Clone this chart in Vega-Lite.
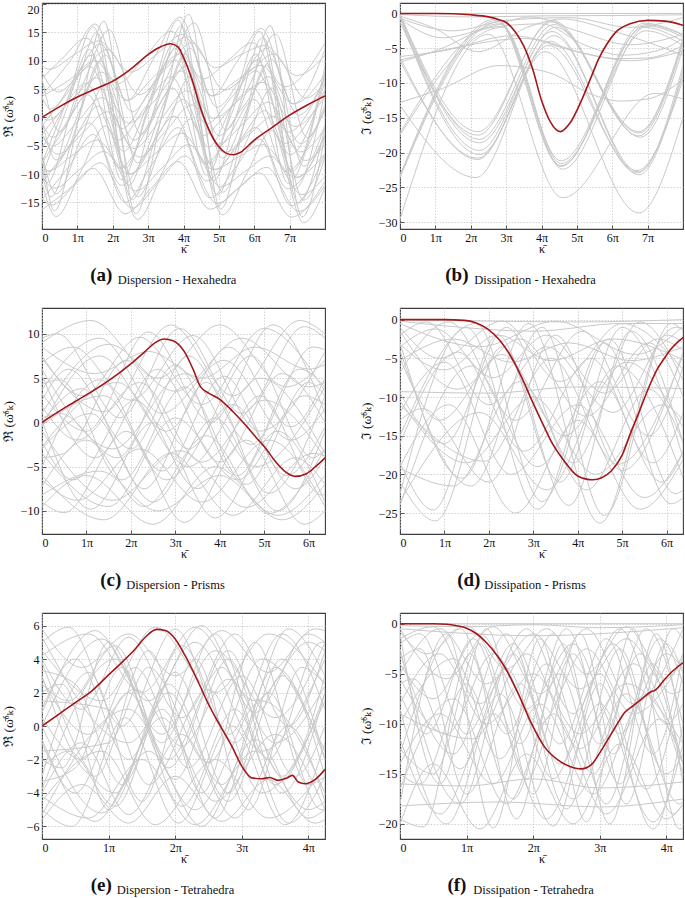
{
"$schema":"https://vega.github.io/schema/vega-lite/v6.json",
"padding":{"left":0,"top":2,"right":0,"bottom":0},
"config":{
"font":"Liberation Serif, DejaVu Serif, serif",
"view":{"stroke":"#3c3c3c","strokeWidth":1.1},
"axis":{"grid":true,"gridColor":"#c0c0c0","gridDash":[1.5,1.5],"gridWidth":0.7,"domain":false,"tickSize":-4,"tickColor":"#333","tickWidth":0.8,"labelPadding":7,"labelFont":"Liberation Serif, DejaVu Serif, serif","labelFontSize":12,"labelColor":"#111","titleFont":"Liberation Serif, DejaVu Serif, serif","titleFontWeight":"normal","titleColor":"#111"},
"axisX":{"titleFontSize":12,"titlePadding":0},
"axisY":{"titleFontSize":13.5,"titlePadding":3,"minExtent":24,"maxExtent":24},
"title":{"orient":"bottom","anchor":"middle","frame":"bounds","offset":12,"font":"Liberation Serif, DejaVu Serif, serif","fontSize":19,"fontWeight":"bold","color":"#111","subtitleFont":"Liberation Serif, DejaVu Serif, serif","subtitleFontSize":12.5,"subtitleColor":"#111","subtitlePadding":-11}
},
"datasets":{
"aG":[
{"c":1,"x":0,"y":-9.3},{"c":1,"x":0.15,"y":-11.5},{"c":1,"x":0.85,"y":1.75},{"c":1,"x":1.55,"y":15},{"c":1,"x":2.45,"y":-12},{"c":1,"x":3.2,"y":2.1},{"c":1,"x":3.95,"y":16.2},{"c":1,"x":4.85,"y":-11.2},{"c":1,"x":5.55,"y":1.5},{"c":1,"x":6.25,"y":14.2},{"c":1,"x":7.15,"y":-12.6},{"c":1,"x":8,"y":4.8},
{"c":2,"x":0,"y":-6.3},{"c":2,"x":0.35,"y":-16.5},{"c":2,"x":1.05,"y":0.25},{"c":2,"x":1.75,"y":17},{"c":2,"x":2.65,"y":-17},{"c":2,"x":3.4,"y":0.6},{"c":2,"x":4.15,"y":18.2},{"c":2,"x":5.05,"y":-16.2},{"c":2,"x":5.75,"y":0},{"c":2,"x":6.45,"y":16.2},{"c":2,"x":7.35,"y":-17.6},{"c":2,"x":8,"y":-3.1},
{"c":3,"x":0,"y":-5.5},{"c":3,"x":0.7,"y":2.75},{"c":3,"x":1.4,"y":11},{"c":3,"x":2.3,"y":-6},{"c":3,"x":3.05,"y":3.1},{"c":3,"x":3.8,"y":12.2},{"c":3,"x":4.7,"y":-5.2},{"c":3,"x":5.4,"y":2.5},{"c":3,"x":6.1,"y":10.2},{"c":3,"x":7.0,"y":-6.6},{"c":3,"x":8,"y":6.2},
{"c":4,"x":0,"y":3.5},{"c":4,"x":0.25,"y":1.5},{"c":4,"x":0.95,"y":7.25},{"c":4,"x":1.65,"y":13},{"c":4,"x":2.55,"y":1},{"c":4,"x":3.3,"y":7.6},{"c":4,"x":4.05,"y":14.2},{"c":4,"x":4.95,"y":1.8},{"c":4,"x":5.65,"y":7},{"c":4,"x":6.35,"y":12.2},{"c":4,"x":7.25,"y":0.4},{"c":4,"x":8,"y":7.1},
{"c":5,"x":0,"y":-6.3},{"c":5,"x":0.4,"y":-13.5},{"c":5,"x":1.1,"y":-3.75},{"c":5,"x":1.8,"y":6},{"c":5,"x":2.7,"y":-14},{"c":5,"x":3.45,"y":-3.4},{"c":5,"x":4.2,"y":7.2},{"c":5,"x":5.1,"y":-13.2},{"c":5,"x":5.8,"y":-4},{"c":5,"x":6.5,"y":5.2},{"c":5,"x":7.4,"y":-14.6},{"c":5,"x":8,"y":-7},
{"c":6,"x":0,"y":-1.5},{"c":6,"x":0.65,"y":3.75},{"c":6,"x":1.35,"y":9},{"c":6,"x":2.25,"y":-2},{"c":6,"x":3.0,"y":4.1},{"c":6,"x":3.75,"y":10.2},{"c":6,"x":4.65,"y":-1.2},{"c":6,"x":5.35,"y":3.5},{"c":6,"x":6.05,"y":8.2},{"c":6,"x":6.95,"y":-2.6},{"c":6,"x":8,"y":7},
{"c":7,"x":0,"y":-8.1},{"c":7,"x":0.2,"y":-9.5},{"c":7,"x":0.9,"y":-3.75},{"c":7,"x":1.6,"y":2},{"c":7,"x":2.5,"y":-10},{"c":7,"x":3.25,"y":-3.4},{"c":7,"x":4.0,"y":3.2},{"c":7,"x":4.9,"y":-9.2},{"c":7,"x":5.6,"y":-4},{"c":7,"x":6.3,"y":1.2},{"c":7,"x":7.2,"y":-10.6},{"c":7,"x":8,"y":-3.3},
{"c":8,"x":0,"y":7.9},{"c":8,"x":0.45,"y":4.5},{"c":8,"x":1.15,"y":8.25},{"c":8,"x":1.85,"y":12},{"c":8,"x":2.75,"y":4},{"c":8,"x":3.5,"y":8.6},{"c":8,"x":4.25,"y":13.2},{"c":8,"x":5.15,"y":4.8},{"c":8,"x":5.85,"y":8},{"c":8,"x":6.55,"y":11.2},{"c":8,"x":7.45,"y":3.4},{"c":8,"x":8,"y":6.2},
{"c":9,"x":0,"y":-14.5},{"c":9,"x":0.75,"y":-8.75},{"c":9,"x":1.45,"y":-3},{"c":9,"x":2.35,"y":-15},{"c":9,"x":3.1,"y":-8.4},{"c":9,"x":3.85,"y":-1.8},{"c":9,"x":4.75,"y":-14.2},{"c":9,"x":5.45,"y":-9},{"c":9,"x":6.15,"y":-3.8},{"c":9,"x":7.05,"y":-15.6},{"c":9,"x":8,"y":-6.4},
{"c":10,"x":0,"y":-0.9},{"c":10,"x":0.3,"y":-3.5},{"c":10,"x":1.0,"y":2.25},{"c":10,"x":1.7,"y":8},{"c":10,"x":2.6,"y":-4},{"c":10,"x":3.35,"y":2.6},{"c":10,"x":4.1,"y":9.2},{"c":10,"x":5.0,"y":-3.2},{"c":10,"x":5.7,"y":2},{"c":10,"x":6.4,"y":7.2},{"c":10,"x":7.3,"y":-4.6},{"c":10,"x":8,"y":1.3},
{"c":11,"x":0,"y":-8.1},{"c":11,"x":0.6,"y":-2.25},{"c":11,"x":1.3,"y":4},{"c":11,"x":2.2,"y":-9},{"c":11,"x":2.95,"y":-2.4},{"c":11,"x":3.7,"y":5.2},{"c":11,"x":4.6,"y":-8.2},{"c":11,"x":5.3,"y":-3},{"c":11,"x":6.0,"y":3.2},{"c":11,"x":6.9,"y":-9.6},{"c":11,"x":8,"y":2.2},
{"c":12,"x":0,"y":-10.5},{"c":12,"x":0.35,"y":-12.5},{"c":12,"x":1.05,"y":-9.25},{"c":12,"x":1.75,"y":-6},{"c":12,"x":2.65,"y":-13},{"c":12,"x":3.4,"y":-8.9},{"c":12,"x":4.15,"y":-4.8},{"c":12,"x":5.05,"y":-12.2},{"c":12,"x":5.75,"y":-9.5},{"c":12,"x":6.45,"y":-6.8},{"c":12,"x":7.35,"y":-13.6},{"c":12,"x":8,"y":-10.4},
{"c":13,"x":0,"y":3.7},{"c":13,"x":0.8,"y":6.75},{"c":13,"x":1.5,"y":10},{"c":13,"x":2.4,"y":3},{"c":13,"x":3.15,"y":7.1},{"c":13,"x":3.9,"y":11.2},{"c":13,"x":4.8,"y":3.8},{"c":13,"x":5.5,"y":6.5},{"c":13,"x":6.2,"y":9.2},{"c":13,"x":7.1,"y":2.4},{"c":13,"x":8,"y":7.6},
{"c":14,"x":0,"y":-3.1},{"c":14,"x":0.45,"y":-6.5},{"c":14,"x":1.15,"y":-2.75},{"c":14,"x":1.85,"y":1},{"c":14,"x":2.75,"y":-7},{"c":14,"x":3.5,"y":-2.4},{"c":14,"x":4.25,"y":2.2},{"c":14,"x":5.15,"y":-6.2},{"c":14,"x":5.85,"y":-3},{"c":14,"x":6.55,"y":0.2},{"c":14,"x":7.45,"y":-7.6},{"c":14,"x":8,"y":-4.8},
{"c":15,"x":0,"y":6.9},{"c":15,"x":0.55,"y":10.25},{"c":15,"x":1.25,"y":14},{"c":15,"x":2.15,"y":6},{"c":15,"x":2.9,"y":10.6},{"c":15,"x":3.65,"y":15.2},{"c":15,"x":4.55,"y":6.8},{"c":15,"x":5.25,"y":10},{"c":15,"x":5.95,"y":13.2},{"c":15,"x":6.85,"y":5.4},{"c":15,"x":8,"y":13.1},
{"c":16,"x":0,"y":-14.2},{"c":16,"x":0.25,"y":-15.5},{"c":16,"x":0.95,"y":-11.75},{"c":16,"x":1.65,"y":-8},{"c":16,"x":2.55,"y":-16},{"c":16,"x":3.3,"y":-11.4},{"c":16,"x":4.05,"y":-6.8},{"c":16,"x":4.95,"y":-15.2},{"c":16,"x":5.65,"y":-12},{"c":16,"x":6.35,"y":-8.8},{"c":16,"x":7.25,"y":-16.6},{"c":16,"x":8,"y":-12},
{"c":17,"x":0,"y":-8},{"c":17,"x":0.75,"y":3.75},{"c":17,"x":1.45,"y":16},{"c":17,"x":2.35,"y":-9},{"c":17,"x":3.1,"y":4.1},{"c":17,"x":3.85,"y":17.2},{"c":17,"x":4.75,"y":-8.2},{"c":17,"x":5.45,"y":3.5},{"c":17,"x":6.15,"y":15.2},{"c":17,"x":7.05,"y":-9.6},{"c":17,"x":8,"y":9.1},
{"c":18,"x":0,"y":0.1},{"c":18,"x":0.15,"y":-0.5},{"c":18,"x":0.85,"y":3.25},{"c":18,"x":1.55,"y":7},{"c":18,"x":2.45,"y":-1},{"c":18,"x":3.2,"y":3.1},{"c":18,"x":3.95,"y":8.2},{"c":18,"x":4.85,"y":-0.2},{"c":18,"x":5.55,"y":3},{"c":18,"x":6.25,"y":6.2},{"c":18,"x":7.15,"y":-1.6},{"c":18,"x":8,"y":3.8},
{"c":19,"x":0,"y":-11.5},{"c":19,"x":0.65,"y":-6.25},{"c":19,"x":1.35,"y":-1},{"c":19,"x":2.25,"y":-12},{"c":19,"x":3.0,"y":-5.9},{"c":19,"x":3.75,"y":0.2},{"c":19,"x":4.65,"y":-11.2},{"c":19,"x":5.35,"y":-6.5},{"c":19,"x":6.05,"y":-1.8},{"c":19,"x":6.95,"y":-12.6},{"c":19,"x":8,"y":-3},
{"c":20,"x":0,"y":-0.7},{"c":20,"x":0.4,"y":-7.5},{"c":20,"x":1.1,"y":1.75},{"c":20,"x":1.8,"y":11},{"c":20,"x":2.7,"y":-8},{"c":20,"x":3.45,"y":2.6},{"c":20,"x":4.2,"y":12.2},{"c":20,"x":5.1,"y":-7.2},{"c":20,"x":5.8,"y":1.5},{"c":20,"x":6.5,"y":10.2},{"c":20,"x":7.4,"y":-8.6},{"c":20,"x":8,"y":-1.3},
{"c":21,"x":0,"y":9.2},{"c":21,"x":0.2,"y":8.5},{"c":21,"x":0.9,"y":11},{"c":21,"x":1.6,"y":13.5},{"c":21,"x":2.5,"y":8},{"c":21,"x":3.25,"y":11.2},{"c":21,"x":4.0,"y":14.7},{"c":21,"x":4.9,"y":8.8},{"c":21,"x":5.6,"y":11},{"c":21,"x":6.3,"y":12.7},{"c":21,"x":7.2,"y":7.4},{"c":21,"x":8,"y":11},
{"c":22,"x":0,"y":-16.3},{"c":22,"x":0.75,"y":-12.75},{"c":22,"x":1.45,"y":-9},{"c":22,"x":2.35,"y":-17},{"c":22,"x":3.1,"y":-12.4},{"c":22,"x":3.85,"y":-7.8},{"c":22,"x":4.75,"y":-16.2},{"c":22,"x":5.45,"y":-13},{"c":22,"x":6.15,"y":-9.8},{"c":22,"x":7.05,"y":-17.6},{"c":22,"x":8,"y":-11.3},
{"c":23,"x":0,"y":-3},{"c":23,"x":0.3,"y":-5},{"c":23,"x":1.0,"y":-0.75},{"c":23,"x":1.7,"y":3.5},{"c":23,"x":2.6,"y":-5.5},{"c":23,"x":3.35,"y":-0.4},{"c":23,"x":4.1,"y":4.7},{"c":23,"x":5.0,"y":-4.7},{"c":23,"x":5.7,"y":-1},{"c":23,"x":6.4,"y":2.7},{"c":23,"x":7.3,"y":-6.1},{"c":23,"x":8,"y":-1.9},
{"c":24,"x":0,"y":-3},{"c":24,"x":0.55,"y":1.25},{"c":24,"x":1.25,"y":6},{"c":24,"x":2.15,"y":-4},{"c":24,"x":2.9,"y":1.6},{"c":24,"x":3.65,"y":7.2},{"c":24,"x":4.55,"y":-3.2},{"c":24,"x":5.25,"y":1.0},{"c":24,"x":5.95,"y":5.2},{"c":24,"x":6.85,"y":-4.6},{"c":24,"x":8,"y":4.9},
{"c":25,"x":0,"y":6.9},{"c":25,"x":0.5,"y":-2.5},{"c":25,"x":1.2,"y":6.5},{"c":25,"x":1.9,"y":15.5},{"c":25,"x":2.8,"y":-3},{"c":25,"x":3.55,"y":7.4},{"c":25,"x":4.3,"y":16.7},{"c":25,"x":5.2,"y":-2.2},{"c":25,"x":5.9,"y":6.2},{"c":25,"x":6.6,"y":14.7},{"c":25,"x":7.5,"y":-3.6},{"c":25,"x":8,"y":1.6},
{"c":26,"x":0,"y":-10.5},{"c":26,"x":0.65,"y":0.75},{"c":26,"x":1.35,"y":12},{"c":26,"x":2.25,"y":-11},{"c":26,"x":3.0,"y":1.1},{"c":26,"x":3.75,"y":13.2},{"c":26,"x":4.65,"y":-10.2},{"c":26,"x":5.35,"y":0.5},{"c":26,"x":6.05,"y":11.2},{"c":26,"x":6.95,"y":-11.6},{"c":26,"x":8,"y":8},
{"c":27,"x":0,"y":-9.9},{"c":27,"x":0.25,"y":-14},{"c":27,"x":0.95,"y":-2},{"c":27,"x":1.65,"y":10},{"c":27,"x":2.55,"y":-14.5},{"c":27,"x":3.3,"y":-1.6},{"c":27,"x":4.05,"y":11.2},{"c":27,"x":4.95,"y":-13.7},{"c":27,"x":5.65,"y":-2.5},{"c":27,"x":6.35,"y":9.2},{"c":27,"x":7.25,"y":-15.1},{"c":27,"x":8,"y":-1.8},
{"c":28,"x":0,"y":-9},{"c":28,"x":0.15,"y":-9.5},{"c":28,"x":0.85,"y":-6.75},{"c":28,"x":1.55,"y":-4},{"c":28,"x":2.45,"y":-10},{"c":28,"x":3.2,"y":-6.4},{"c":28,"x":3.95,"y":-2.8},{"c":28,"x":4.85,"y":-9.2},{"c":28,"x":5.55,"y":-7},{"c":28,"x":6.25,"y":-4.8},{"c":28,"x":7.15,"y":-10.6},{"c":28,"x":8,"y":-6.4},
{"c":29,"x":0,"y":4},{"c":29,"x":0.8,"y":10},{"c":29,"x":1.5,"y":16.5},{"c":29,"x":2.4,"y":3},{"c":29,"x":3.15,"y":10.3},{"c":29,"x":3.9,"y":17.7},{"c":29,"x":4.8,"y":3.8},{"c":29,"x":5.5,"y":9.7},{"c":29,"x":6.2,"y":15.7},{"c":29,"x":7.1,"y":2.4},{"c":29,"x":8,"y":12},
{"c":30,"x":0,"y":-11.6},{"c":30,"x":0.4,"y":-17.5},{"c":30,"x":1.1,"y":-9.5},{"c":30,"x":1.8,"y":-1.5},{"c":30,"x":2.7,"y":-18},{"c":30,"x":3.45,"y":-9.1},{"c":30,"x":4.2,"y":-0.3},{"c":30,"x":5.1,"y":-17.2},{"c":30,"x":5.8,"y":-9.7},{"c":30,"x":6.5,"y":-2.3},{"c":30,"x":7.4,"y":-18.6},{"c":30,"x":8,"y":-12.3}
],
"aR":[
{"x":0,"y":0},{"x":0.5,"y":1.9},{"x":1,"y":3.6},{"x":1.5,"y":5.0},{"x":2,"y":6.4},{"x":2.5,"y":8.5},{"x":3,"y":11.1},{"x":3.3,"y":12.3},{"x":3.63,"y":13.0},{"x":3.85,"y":12.4},{"x":4.0,"y":10.6},{"x":4.25,"y":6.5},{"x":4.5,"y":1.3},{"x":4.75,"y":-2.6},{"x":5.0,"y":-5.2},{"x":5.2,"y":-6.3},{"x":5.4,"y":-6.6},{"x":5.6,"y":-6.2},{"x":6.0,"y":-4.0},{"x":6.5,"y":-1.8},{"x":7.0,"y":0.4},{"x":7.5,"y":2.2},{"x":8,"y":3.8}
],
"bG":[
{"c":1,"x":0,"y":-0.1},{"c":1,"x":2.2,"y":-17},{"c":1,"x":4.3,"y":-1.2},{"c":1,"x":6.75,"y":-17.2},{"c":1,"x":8,"y":-4},
{"c":2,"x":0,"y":-0.2},{"c":2,"x":2.25,"y":-18.1},{"c":2,"x":4.35,"y":-1.6},{"c":2,"x":6.75,"y":-17.6},{"c":2,"x":8,"y":-4.3},
{"c":3,"x":0,"y":-0.3},{"c":3,"x":2.25,"y":-18.6},{"c":3,"x":4.4,"y":-2},{"c":3,"x":6.8,"y":-17.8},{"c":3,"x":8,"y":-5},
{"c":4,"x":0,"y":-0.5},{"c":4,"x":2.25,"y":-19.7},{"c":4,"x":4.3,"y":-2.6},{"c":4,"x":6.75,"y":-22.8},{"c":4,"x":8,"y":-7.5},
{"c":5,"x":0,"y":-0.6},{"c":5,"x":2.25,"y":-20.3},{"c":5,"x":4.35,"y":-3.2},{"c":5,"x":6.75,"y":-23.2},{"c":5,"x":8,"y":-8.2},
{"c":6,"x":0,"y":-6.3},{"c":6,"x":2.2,"y":-21},{"c":6,"x":4.2,"y":-4.6},{"c":6,"x":6.7,"y":-22.6},{"c":6,"x":8,"y":-9.5},
{"c":7,"x":0,"y":-13.2},{"c":7,"x":2.15,"y":-23.6},{"c":7,"x":4.1,"y":-5.5},{"c":7,"x":6.75,"y":-28.7},{"c":7,"x":8,"y":-15},
{"c":8,"x":0,"y":-17.2},{"c":8,"x":2.8,"y":-1.5},{"c":8,"x":4.55,"y":-21.2},{"c":8,"x":6.9,"y":-2},{"c":8,"x":8,"y":-4},
{"c":9,"x":0,"y":-17.5},{"c":9,"x":2.9,"y":-2},{"c":9,"x":4.55,"y":-21.6},{"c":9,"x":6.95,"y":-2.5},{"c":9,"x":8,"y":-4.6},
{"c":10,"x":0,"y":-23.3},{"c":10,"x":2.7,"y":-0.8},{"c":10,"x":4.55,"y":-22},{"c":10,"x":6.9,"y":-1.4},{"c":10,"x":8,"y":-3},
{"c":11,"x":0,"y":-23.6},{"c":11,"x":2.8,"y":-1.2},{"c":11,"x":4.6,"y":-22.4},{"c":11,"x":7.0,"y":-1.8},{"c":11,"x":8,"y":-3.4},
{"c":12,"x":0,"y":-29.6},{"c":12,"x":2.5,"y":-3},{"c":12,"x":4.6,"y":-26.5},{"c":12,"x":7.2,"y":-11.5},{"c":12,"x":8,"y":-12.3},
{"c":13,"x":0,"y":-6.2},{"c":13,"x":1.2,"y":-5.4},{"c":13,"x":3.2,"y":-3.2},{"c":13,"x":5,"y":-5.5},{"c":13,"x":6.2,"y":-6.5},{"c":13,"x":7,"y":-6.4},{"c":13,"x":8,"y":-4.6},
{"c":14,"x":0,"y":-6.7},{"c":14,"x":1.5,"y":-5},{"c":14,"x":3.5,"y":-3.6},{"c":14,"x":5.5,"y":-6.1},{"c":14,"x":6.5,"y":-6.8},{"c":14,"x":8,"y":-5.4},
{"c":15,"x":0,"y":-12.8},{"c":15,"x":1.2,"y":-10.8},{"c":15,"x":2.8,"y":-7.5},{"c":15,"x":4.2,"y":-8.5},{"c":15,"x":5.5,"y":-11.8},{"c":15,"x":6.2,"y":-12.6},{"c":15,"x":7,"y":-12.3},{"c":15,"x":8,"y":-9.5},
{"c":16,"x":0,"y":0},{"c":16,"x":8,"y":0},
{"c":17,"x":0,"y":-0.15},{"c":17,"x":2,"y":-0.5},{"c":17,"x":4,"y":-0.35},{"c":17,"x":6,"y":-0.3},{"c":17,"x":8,"y":-0.2},
{"c":18,"x":0,"y":-0.7},{"c":18,"x":1.5,"y":-2.5},{"c":18,"x":3,"y":-1},{"c":18,"x":4.8,"y":-0.6},{"c":18,"x":6.5,"y":-2},{"c":18,"x":8,"y":-0.6},
{"c":19,"x":0,"y":-7},{"c":19,"x":1.1,"y":-5.2},{"c":19,"x":2.6,"y":-2},{"c":19,"x":4.0,"y":-1.5},{"c":19,"x":5.2,"y":-4.5},{"c":19,"x":6.3,"y":-6},{"c":19,"x":7.5,"y":-5},{"c":19,"x":8,"y":-3.5},
{"c":20,"x":0,"y":-0.4},{"c":20,"x":1.0,"y":-2.2},{"c":20,"x":2.2,"y":-5.5},{"c":20,"x":3.6,"y":-2},{"c":20,"x":4.6,"y":-0.8},{"c":20,"x":6,"y":-2.5},{"c":20,"x":8,"y":-6},
{"c":21,"x":0,"y":-0.8},{"c":21,"x":1.2,"y":-3.5},{"c":21,"x":2.5,"y":-2},{"c":21,"x":3.7,"y":-0.5},{"c":21,"x":5,"y":-2.5},{"c":21,"x":6.5,"y":-4.5},{"c":21,"x":8,"y":-3},
{"c":22,"x":0,"y":-1.2},{"c":22,"x":2.2,"y":-17.5},{"c":22,"x":4.3,"y":-1},{"c":22,"x":6.75,"y":-17},{"c":22,"x":8,"y":-3.6},
{"c":23,"x":0,"y":-23.4},{"c":23,"x":2.75,"y":-1},{"c":23,"x":4.55,"y":-21.9},{"c":23,"x":6.95,"y":-1.6},{"c":23,"x":8,"y":-3.1},
{"c":24,"x":0,"y":-6.8},{"c":24,"x":2.2,"y":-20.8},{"c":24,"x":4.25,"y":-4},{"c":24,"x":6.7,"y":-22.9},{"c":24,"x":8,"y":-8.8}
],
"bR":[
{"x":0,"y":0},{"x":1,"y":0},{"x":1.5,"y":-0.05},{"x":2,"y":-0.2},{"x":2.5,"y":-0.5},{"x":2.8,"y":-0.9},{"x":3.0,"y":-1.3},{"x":3.25,"y":-2.6},{"x":3.5,"y":-4.7},{"x":3.75,"y":-8},{"x":4.0,"y":-12.5},{"x":4.25,"y":-15.6},{"x":4.53,"y":-17},{"x":4.8,"y":-15.8},{"x":5.14,"y":-12.4},{"x":5.4,"y":-9.2},{"x":5.61,"y":-6.6},{"x":5.85,"y":-4.4},{"x":6.08,"y":-2.8},{"x":6.5,"y":-1.5},{"x":7.0,"y":-1.0},{"x":7.5,"y":-1.1},{"x":8,"y":-1.7}
],
"cG":[
{"c":1,"x":0,"y":9.5},{"c":1,"x":0.35,"y":10},{"c":1,"x":1.75,"y":0.5},{"c":1,"x":3.1,"y":10.6},{"c":1,"x":4.5,"y":1},{"c":1,"x":5.9,"y":10.8},{"c":1,"x":6.37,"y":9.5},
{"c":2,"x":0,"y":-9},{"c":2,"x":0.5,"y":-10.2},{"c":2,"x":1.9,"y":-1},{"c":2,"x":3.2,"y":-11.3},{"c":2,"x":4.6,"y":-2},{"c":2,"x":5.9,"y":-11.5},{"c":2,"x":6.37,"y":-10},
{"c":3,"x":0,"y":7.5},{"c":3,"x":0.9,"y":3},{"c":3,"x":2.2,"y":9.6},{"c":3,"x":3.6,"y":2},{"c":3,"x":5.0,"y":10.6},{"c":3,"x":6.37,"y":3.5},
{"c":4,"x":0,"y":-7.2},{"c":4,"x":1.0,"y":-2},{"c":4,"x":2.3,"y":-9.5},{"c":4,"x":3.7,"y":-1.5},{"c":4,"x":5.1,"y":-10.3},{"c":4,"x":6.37,"y":-3},
{"c":5,"x":0,"y":5.3},{"c":5,"x":1.2,"y":-4},{"c":5,"x":2.6,"y":6},{"c":5,"x":4.0,"y":-4.5},{"c":5,"x":5.4,"y":5.5},{"c":5,"x":6.37,"y":0},
{"c":6,"x":0,"y":-5},{"c":6,"x":1.3,"y":4.8},{"c":6,"x":2.7,"y":-5.5},{"c":6,"x":4.1,"y":5.2},{"c":6,"x":5.5,"y":-6},{"c":6,"x":6.37,"y":-0.5},
{"c":7,"x":0,"y":2.5},{"c":7,"x":0.6,"y":6},{"c":7,"x":2.0,"y":-3},{"c":7,"x":3.3,"y":7.5},{"c":7,"x":4.7,"y":-2.5},{"c":7,"x":6.1,"y":8.5},{"c":7,"x":6.37,"y":8.2},
{"c":8,"x":0,"y":-2.2},{"c":8,"x":0.7,"y":-6.5},{"c":8,"x":2.1,"y":2.5},{"c":8,"x":3.5,"y":-7.5},{"c":8,"x":4.9,"y":3},{"c":8,"x":6.3,"y":-8.2},{"c":8,"x":6.37,"y":-8.1},
{"c":9,"x":0,"y":1},{"c":9,"x":1.5,"y":8.8},{"c":9,"x":3.0,"y":3.5},{"c":9,"x":4.5,"y":9.5},{"c":9,"x":6.0,"y":4},{"c":9,"x":6.37,"y":4.5},
{"c":10,"x":0,"y":-1},{"c":10,"x":1.6,"y":-8.8},{"c":10,"x":3.1,"y":-3.2},{"c":10,"x":4.6,"y":-9.6},{"c":10,"x":6.1,"y":-3.5},{"c":10,"x":6.37,"y":-3.8},
{"c":11,"x":0,"y":0.2},{"c":11,"x":1.1,"y":-9.8},{"c":11,"x":2.5,"y":0},{"c":11,"x":3.9,"y":-10.8},{"c":11,"x":5.3,"y":-1},{"c":11,"x":6.37,"y":-9},
{"c":12,"x":0,"y":4.3},{"c":12,"x":0.4,"y":4.8},{"c":12,"x":1.8,"y":-6.5},{"c":12,"x":3.2,"y":4},{"c":12,"x":4.6,"y":-7},{"c":12,"x":6.0,"y":4.5},{"c":12,"x":6.37,"y":3},
{"c":13,"x":0,"y":-4},{"c":13,"x":0.5,"y":-3.5},{"c":13,"x":1.9,"y":7},{"c":13,"x":3.3,"y":-3},{"c":13,"x":4.7,"y":7.5},{"c":13,"x":6.1,"y":-4},{"c":13,"x":6.37,"y":-3},
{"c":14,"x":0,"y":7.2},{"c":14,"x":1.4,"y":1.2},{"c":14,"x":2.9,"y":11},{"c":14,"x":4.3,"y":3},{"c":14,"x":5.8,"y":11.5},{"c":14,"x":6.37,"y":10},
{"c":15,"x":0,"y":-6},{"c":15,"x":1.4,"y":-11},{"c":15,"x":2.9,"y":-3.5},{"c":15,"x":4.3,"y":-10.5},{"c":15,"x":5.7,"y":-4},{"c":15,"x":6.37,"y":-7},
{"c":16,"x":0,"y":0},{"c":16,"x":0.9,"y":3.8},{"c":16,"x":2.3,"y":-7.5},{"c":16,"x":3.7,"y":4.5},{"c":16,"x":5.1,"y":-8},{"c":16,"x":6.37,"y":3},
{"c":17,"x":0,"y":-0.5},{"c":17,"x":1.3,"y":7.5},{"c":17,"x":2.8,"y":-1},{"c":17,"x":4.2,"y":8.5},{"c":17,"x":5.6,"y":-0.5},{"c":17,"x":6.37,"y":5},
{"c":18,"x":0,"y":3.2},{"c":18,"x":1.0,"y":-1},{"c":18,"x":2.4,"y":10.2},{"c":18,"x":3.8,"y":0},{"c":18,"x":5.2,"y":11},{"c":18,"x":6.37,"y":1},
{"c":19,"x":0,"y":-3},{"c":19,"x":1.1,"y":1},{"c":19,"x":2.5,"y":-9},{"c":19,"x":3.9,"y":0.5},{"c":19,"x":5.3,"y":-10},{"c":19,"x":6.37,"y":-1},
{"c":20,"x":0,"y":8.5},{"c":20,"x":1.2,"y":5.5},{"c":20,"x":2.4,"y":8},{"c":20,"x":3.6,"y":5},{"c":20,"x":4.8,"y":8.5},{"c":20,"x":6.0,"y":6},{"c":20,"x":6.37,"y":6.5},
{"c":21,"x":0,"y":-8.2},{"c":21,"x":1.3,"y":-5.5},{"c":21,"x":2.6,"y":-10},{"c":21,"x":4.0,"y":-6},{"c":21,"x":5.4,"y":-11},{"c":21,"x":6.37,"y":-7},
{"c":22,"x":0,"y":1.8},{"c":22,"x":0.8,"y":-2},{"c":22,"x":2.2,"y":4.5},{"c":22,"x":3.6,"y":-4.5},{"c":22,"x":5.0,"y":2.5},{"c":22,"x":6.37,"y":-4},
{"c":23,"x":0,"y":6},{"c":23,"x":1.6,"y":-3},{"c":23,"x":3.2,"y":5.5},{"c":23,"x":4.8,"y":-5},{"c":23,"x":6.37,"y":4},
{"c":24,"x":0,"y":-2.8},{"c":24,"x":1.7,"y":4.5},{"c":24,"x":3.3,"y":-5},{"c":24,"x":4.9,"y":5},{"c":24,"x":6.37,"y":-3.5},
{"c":25,"x":0,"y":9},{"c":25,"x":1.1,"y":11.5},{"c":25,"x":2.6,"y":5},{"c":25,"x":4.0,"y":11},{"c":25,"x":5.5,"y":4},{"c":25,"x":6.37,"y":7},
{"c":26,"x":0,"y":-9.5},{"c":26,"x":1.0,"y":-6},{"c":26,"x":2.5,"y":-11.5},{"c":26,"x":3.9,"y":-5},{"c":26,"x":5.3,"y":-10.5},{"c":26,"x":6.37,"y":-6},
{"c":27,"x":0,"y":0.5},{"c":27,"x":0.4,"y":1},{"c":27,"x":1.7,"y":-4},{"c":27,"x":3.0,"y":6.5},{"c":27,"x":4.4,"y":-6},{"c":27,"x":5.8,"y":6},{"c":27,"x":6.37,"y":4},
{"c":28,"x":0,"y":-0.3},{"c":28,"x":1.4,"y":3},{"c":28,"x":2.8,"y":-6.5},{"c":28,"x":4.3,"y":2},{"c":28,"x":5.7,"y":-7.5},{"c":28,"x":6.37,"y":-4},
{"c":29,"x":0,"y":6.7},{"c":29,"x":0.7,"y":8.5},{"c":29,"x":2.0,"y":2.5},{"c":29,"x":3.4,"y":9.8},{"c":29,"x":4.9,"y":-1},{"c":29,"x":6.37,"y":8},
{"c":30,"x":0,"y":-6.5},{"c":30,"x":0.8,"y":-8.8},{"c":30,"x":2.2,"y":-3},{"c":30,"x":3.6,"y":-9},{"c":30,"x":5.1,"y":-2},{"c":30,"x":6.37,"y":-9.5},
{"c":31,"x":0,"y":3.7},{"c":31,"x":1.3,"y":9.5},{"c":31,"x":2.7,"y":1},{"c":31,"x":4.1,"y":7},{"c":31,"x":5.6,"y":-2},{"c":31,"x":6.37,"y":1.5},
{"c":32,"x":0,"y":-3.5},{"c":32,"x":1.5,"y":-9.5},{"c":32,"x":3.0,"y":0.5},{"c":32,"x":4.4,"y":-6.5},{"c":32,"x":5.9,"y":3},{"c":32,"x":6.37,"y":2}
],
"cR":[
{"x":0,"y":0},{"x":0.5,"y":1.6},{"x":1,"y":3.1},{"x":1.5,"y":4.7},{"x":2,"y":6.6},{"x":2.3,"y":7.9},{"x":2.55,"y":9.0},{"x":2.75,"y":9.4},{"x":2.95,"y":9.2},{"x":3.2,"y":8.0},{"x":3.4,"y":6.0},{"x":3.57,"y":4.0},{"x":3.75,"y":3.3},{"x":4.0,"y":2.6},{"x":4.3,"y":1.2},{"x":4.58,"y":-0.3},{"x":4.8,"y":-1.6},{"x":5.03,"y":-2.9},{"x":5.25,"y":-4.4},{"x":5.48,"y":-5.6},{"x":5.7,"y":-6.1},{"x":5.95,"y":-5.8},{"x":6.2,"y":-4.8},{"x":6.37,"y":-4.0}
],
"dG":[
{"c":1,"x":0,"y":-18.5},{"c":1,"x":0.75,"y":-24.6},{"c":1,"x":2.2,"y":-2},{"c":1,"x":3.6,"y":-21},{"c":1,"x":5.0,"y":-1},{"c":1,"x":6.38,"y":-18},
{"c":2,"x":0,"y":-21},{"c":2,"x":0.8,"y":-26},{"c":2,"x":2.3,"y":-3.5},{"c":2,"x":3.8,"y":-24},{"c":2,"x":5.2,"y":-1.5},{"c":2,"x":6.38,"y":-16},
{"c":3,"x":0,"y":-3},{"c":3,"x":1.4,"y":-20.5},{"c":3,"x":2.9,"y":-0.5},{"c":3,"x":4.5,"y":-26.3},{"c":3,"x":6.0,"y":-2},{"c":3,"x":6.38,"y":-3},
{"c":4,"x":0,"y":-4},{"c":4,"x":1.6,"y":-21.5},{"c":4,"x":3.2,"y":-1},{"c":4,"x":4.6,"y":-25.3},{"c":4,"x":6.1,"y":-0.5},{"c":4,"x":6.38,"y":-1.5},
{"c":5,"x":0,"y":-9.5},{"c":5,"x":1.0,"y":-16},{"c":5,"x":2.4,"y":-1},{"c":5,"x":3.9,"y":-18.5},{"c":5,"x":5.4,"y":-0.3},{"c":5,"x":6.38,"y":-8},
{"c":6,"x":0,"y":-15},{"c":6,"x":1.7,"y":-0.5},{"c":6,"x":3.2,"y":-23.5},{"c":6,"x":4.7,"y":-2.5},{"c":6,"x":6.2,"y":-22.5},{"c":6,"x":6.38,"y":-22},
{"c":7,"x":0,"y":-22.5},{"c":7,"x":1.5,"y":-1},{"c":7,"x":3.1,"y":-24.5},{"c":7,"x":4.6,"y":-3},{"c":7,"x":6.1,"y":-23.8},{"c":7,"x":6.38,"y":-23},
{"c":8,"x":0,"y":-13},{"c":8,"x":0.5,"y":-11.5},{"c":8,"x":2.0,"y":-21},{"c":8,"x":3.5,"y":-2},{"c":8,"x":5.0,"y":-19.5},{"c":8,"x":6.38,"y":-4},
{"c":9,"x":0,"y":-1},{"c":9,"x":0.9,"y":-5},{"c":9,"x":2.3,"y":-0.2},{"c":9,"x":3.6,"y":-8},{"c":9,"x":5.0,"y":-0.5},{"c":9,"x":6.38,"y":-6.5},
{"c":10,"x":0,"y":-5.3},{"c":10,"x":1.2,"y":-2.5},{"c":10,"x":2.5,"y":-5.5},{"c":10,"x":3.8,"y":-3},{"c":10,"x":5.2,"y":-5.3},{"c":10,"x":6.38,"y":-3.5},
{"c":11,"x":0,"y":-9.3},{"c":11,"x":2,"y":-9.5},{"c":11,"x":4,"y":-8.7},{"c":11,"x":6.38,"y":-8.9},
{"c":12,"x":0,"y":-0.5},{"c":12,"x":1.8,"y":-3.5},{"c":12,"x":3.5,"y":-0.2},{"c":12,"x":5.3,"y":-4.5},{"c":12,"x":6.38,"y":-0.8},
{"c":13,"x":0,"y":-6.8},{"c":13,"x":1.1,"y":-0.3},{"c":13,"x":2.6,"y":-13},{"c":13,"x":4.1,"y":-1.5},{"c":13,"x":5.6,"y":-15},{"c":13,"x":6.38,"y":-6},
{"c":14,"x":0,"y":-11},{"c":14,"x":1.9,"y":-18.3},{"c":14,"x":3.4,"y":-5},{"c":14,"x":4.9,"y":-18.7},{"c":14,"x":6.38,"y":-4.5},
{"c":15,"x":0,"y":-2},{"c":15,"x":0.6,"y":-0.3},{"c":15,"x":2.0,"y":-11},{"c":15,"x":3.3,"y":-3.5},{"c":15,"x":4.8,"y":-12},{"c":15,"x":6.2,"y":-1},{"c":15,"x":6.38,"y":-1.2},
{"c":16,"x":0,"y":-16},{"c":16,"x":1.3,"y":-4.2},{"c":16,"x":2.8,"y":-17},{"c":16,"x":4.3,"y":-5},{"c":16,"x":5.7,"y":-18.5},{"c":16,"x":6.38,"y":-12},
{"c":17,"x":0,"y":-19.2},{"c":17,"x":1.2,"y":-21.5},{"c":17,"x":2.7,"y":-8},{"c":17,"x":4.2,"y":-22},{"c":17,"x":5.6,"y":-9},{"c":17,"x":6.38,"y":-16},
{"c":18,"x":0,"y":-3.5},{"c":18,"x":0.8,"y":-1.2},{"c":18,"x":2.1,"y":-7.5},{"c":18,"x":3.3,"y":-2},{"c":18,"x":4.6,"y":-9.5},{"c":18,"x":5.8,"y":-2.5},{"c":18,"x":6.38,"y":-4},
{"c":19,"x":0,"y":0},{"c":19,"x":2,"y":-0.2},{"c":19,"x":4,"y":-0.3},{"c":19,"x":6.38,"y":0},
{"c":20,"x":0,"y":-0.2},{"c":20,"x":1,"y":-0.8},{"c":20,"x":3,"y":-1.5},{"c":20,"x":5,"y":-0.5},{"c":20,"x":6.38,"y":-0.5},
{"c":21,"x":0,"y":-23.5},{"c":21,"x":1.8,"y":-12},{"c":21,"x":3.3,"y":-22},{"c":21,"x":4.9,"y":-6},{"c":21,"x":6.38,"y":-20.5},
{"c":22,"x":0,"y":-12},{"c":22,"x":1.0,"y":-5.5},{"c":22,"x":2.5,"y":-20},{"c":22,"x":4.0,"y":-11},{"c":22,"x":5.5,"y":-23},{"c":22,"x":6.38,"y":-17},
{"c":23,"x":0,"y":-5},{"c":23,"x":0.9,"y":-13},{"c":23,"x":2.3,"y":-4.5},{"c":23,"x":3.7,"y":-15},{"c":23,"x":5.1,"y":-5.5},{"c":23,"x":6.38,"y":-14},
{"c":24,"x":0,"y":-19},{"c":24,"x":1.1,"y":-11},{"c":24,"x":2.6,"y":-25},{"c":24,"x":4.0,"y":-13},{"c":24,"x":5.4,"y":-24.5},{"c":24,"x":6.38,"y":-18},
{"c":25,"x":0,"y":-1.5},{"c":25,"x":1.3,"y":-9},{"c":25,"x":2.7,"y":-2.5},{"c":25,"x":4.2,"y":-12.5},{"c":25,"x":5.6,"y":-3},{"c":25,"x":6.38,"y":-10},
{"c":26,"x":0,"y":-24},{"c":26,"x":1.6,"y":-6},{"c":26,"x":3.1,"y":-19},{"c":26,"x":4.5,"y":-8},{"c":26,"x":5.9,"y":-21},{"c":26,"x":6.38,"y":-17},
{"c":27,"x":0,"y":-3.2},{"c":27,"x":1.0,"y":-6.5},{"c":27,"x":2.2,"y":-2},{"c":27,"x":3.4,"y":-5.3},{"c":27,"x":4.8,"y":-2.5},{"c":27,"x":6.38,"y":-5.2},
{"c":28,"x":0,"y":-10.5},{"c":28,"x":1.5,"y":-18.5},{"c":28,"x":3.0,"y":-10},{"c":28,"x":4.4,"y":-20},{"c":28,"x":5.9,"y":-11},{"c":28,"x":6.38,"y":-13}
],
"dR":[
{"x":0,"y":0},{"x":1,"y":0},{"x":1.45,"y":-0.1},{"x":1.7,"y":-0.4},{"x":1.97,"y":-1.2},{"x":2.25,"y":-2.7},{"x":2.5,"y":-4.8},{"x":2.75,"y":-7.6},{"x":2.95,"y":-10.2},{"x":3.2,"y":-13.3},{"x":3.4,"y":-15.7},{"x":3.7,"y":-18.3},{"x":4.0,"y":-20.2},{"x":4.34,"y":-20.7},{"x":4.55,"y":-20.4},{"x":4.75,"y":-19.6},{"x":5.0,"y":-17.5},{"x":5.2,"y":-14.5},{"x":5.35,"y":-12.4},{"x":5.5,"y":-10.2},{"x":5.65,"y":-8.1},{"x":5.8,"y":-6.3},{"x":5.95,"y":-5.0},{"x":6.1,"y":-3.8},{"x":6.25,"y":-2.9},{"x":6.38,"y":-2.3}
],
"eG":[
{"c":1,"x":0,"y":5},{"c":1,"x":0.4,"y":5.9},{"c":1,"x":1.2,"y":0},{"c":1,"x":2.0,"y":5.8},{"c":1,"x":2.8,"y":-0.5},{"c":1,"x":3.6,"y":5.5},{"c":1,"x":4.25,"y":1},
{"c":2,"x":0,"y":-5},{"c":2,"x":0.45,"y":-6},{"c":2,"x":1.25,"y":0.5},{"c":2,"x":2.05,"y":-5.8},{"c":2,"x":2.85,"y":0},{"c":2,"x":3.65,"y":-5.9},{"c":2,"x":4.25,"y":-1},
{"c":3,"x":0,"y":3},{"c":3,"x":0.8,"y":-3},{"c":3,"x":1.6,"y":4.5},{"c":3,"x":2.4,"y":-4},{"c":3,"x":3.2,"y":5},{"c":3,"x":4.0,"y":-3.5},{"c":3,"x":4.25,"y":-3},
{"c":4,"x":0,"y":-3},{"c":4,"x":0.7,"y":3.2},{"c":4,"x":1.5,"y":-4.5},{"c":4,"x":2.3,"y":4},{"c":4,"x":3.1,"y":-5},{"c":4,"x":3.9,"y":3.5},{"c":4,"x":4.25,"y":2.5},
{"c":5,"x":0,"y":1},{"c":5,"x":0.5,"y":4},{"c":5,"x":1.3,"y":-2},{"c":5,"x":2.1,"y":4.8},{"c":5,"x":2.9,"y":-1},{"c":5,"x":3.7,"y":5.8},{"c":5,"x":4.25,"y":3},
{"c":6,"x":0,"y":-1},{"c":6,"x":0.5,"y":-4},{"c":6,"x":1.3,"y":2},{"c":6,"x":2.1,"y":-4.8},{"c":6,"x":2.9,"y":1},{"c":6,"x":3.7,"y":-5.8},{"c":6,"x":4.25,"y":-3},
{"c":7,"x":0,"y":4.5},{"c":7,"x":0.9,"y":1.5},{"c":7,"x":1.7,"y":5.9},{"c":7,"x":2.6,"y":2},{"c":7,"x":3.4,"y":5.5},{"c":7,"x":4.25,"y":2.5},
{"c":8,"x":0,"y":-4.5},{"c":8,"x":0.9,"y":-1.5},{"c":8,"x":1.7,"y":-5.9},{"c":8,"x":2.6,"y":-2},{"c":8,"x":3.4,"y":-5.5},{"c":8,"x":4.25,"y":-2.5},
{"c":9,"x":0,"y":2},{"c":9,"x":0.3,"y":2.5},{"c":9,"x":1.0,"y":-5},{"c":9,"x":1.8,"y":1},{"c":9,"x":2.6,"y":-5.5},{"c":9,"x":3.4,"y":2},{"c":9,"x":4.2,"y":-5},{"c":9,"x":4.25,"y":-5},
{"c":10,"x":0,"y":-2},{"c":10,"x":0.3,"y":-2.5},{"c":10,"x":1.0,"y":5},{"c":10,"x":1.8,"y":-1},{"c":10,"x":2.6,"y":5.5},{"c":10,"x":3.4,"y":-2},{"c":10,"x":4.2,"y":5},{"c":10,"x":4.25,"y":5},
{"c":11,"x":0,"y":0.5},{"c":11,"x":0.6,"y":-2},{"c":11,"x":1.4,"y":3.5},{"c":11,"x":2.2,"y":-2.5},{"c":11,"x":3.0,"y":3},{"c":11,"x":3.8,"y":-3},{"c":11,"x":4.25,"y":0},
{"c":12,"x":0,"y":5.8},{"c":12,"x":0.6,"y":3.5},{"c":12,"x":1.3,"y":5.5},{"c":12,"x":2.0,"y":3},{"c":12,"x":2.7,"y":5.7},{"c":12,"x":3.4,"y":3.2},{"c":12,"x":4.1,"y":5.8},{"c":12,"x":4.25,"y":5.7},
{"c":13,"x":0,"y":-5.6},{"c":13,"x":0.6,"y":-3.5},{"c":13,"x":1.3,"y":-5.8},{"c":13,"x":2.0,"y":-3},{"c":13,"x":2.7,"y":-5.7},{"c":13,"x":3.4,"y":-3.2},{"c":13,"x":4.1,"y":-5.8},{"c":13,"x":4.25,"y":-5.6},
{"c":14,"x":0,"y":3.8},{"c":14,"x":1.1,"y":-4},{"c":14,"x":1.9,"y":2.5},{"c":14,"x":2.8,"y":-4.5},{"c":14,"x":3.6,"y":3},{"c":14,"x":4.25,"y":-3},
{"c":15,"x":0,"y":-3.8},{"c":15,"x":1.1,"y":4},{"c":15,"x":1.9,"y":-2.5},{"c":15,"x":2.8,"y":4.5},{"c":15,"x":3.6,"y":-3},{"c":15,"x":4.25,"y":3},
{"c":16,"x":0,"y":0},{"c":16,"x":0.9,"y":5.2},{"c":16,"x":1.8,"y":-0.5},{"c":16,"x":2.6,"y":4.5},{"c":16,"x":3.5,"y":0.5},{"c":16,"x":4.25,"y":5},
{"c":17,"x":0,"y":0},{"c":17,"x":0.9,"y":-5.2},{"c":17,"x":1.8,"y":0.5},{"c":17,"x":2.6,"y":-4.5},{"c":17,"x":3.5,"y":-0.5},{"c":17,"x":4.25,"y":-5},
{"c":18,"x":0,"y":2.5},{"c":18,"x":0.4,"y":1.5},{"c":18,"x":1.1,"y":4.8},{"c":18,"x":1.9,"y":-2},{"c":18,"x":2.7,"y":3.5},{"c":18,"x":3.5,"y":-3.5},{"c":18,"x":4.25,"y":2},
{"c":19,"x":0,"y":-2.5},{"c":19,"x":0.4,"y":-1.5},{"c":19,"x":1.1,"y":-4.8},{"c":19,"x":1.9,"y":2},{"c":19,"x":2.7,"y":-3.5},{"c":19,"x":3.5,"y":3.5},{"c":19,"x":4.25,"y":-2},
{"c":20,"x":0,"y":4.2},{"c":20,"x":0.7,"y":5.5},{"c":20,"x":1.5,"y":2},{"c":20,"x":2.3,"y":5.9},{"c":20,"x":3.2,"y":1.5},{"c":20,"x":4.0,"y":5},{"c":20,"x":4.25,"y":4.5},
{"c":21,"x":0,"y":-4.2},{"c":21,"x":0.7,"y":-5.5},{"c":21,"x":1.5,"y":-2},{"c":21,"x":2.3,"y":-5.9},{"c":21,"x":3.2,"y":-1.5},{"c":21,"x":4.0,"y":-5},{"c":21,"x":4.25,"y":-4.5},
{"c":22,"x":0,"y":1.5},{"c":22,"x":1.0,"y":1},{"c":22,"x":1.6,"y":-3.5},{"c":22,"x":2.5,"y":2.2},{"c":22,"x":3.3,"y":-4},{"c":22,"x":4.25,"y":1.5},
{"c":23,"x":0,"y":-1.5},{"c":23,"x":1.0,"y":-1},{"c":23,"x":1.6,"y":3.5},{"c":23,"x":2.5,"y":-2.2},{"c":23,"x":3.3,"y":4},{"c":23,"x":4.25,"y":-1.5},
{"c":24,"x":0,"y":5.3},{"c":24,"x":1.3,"y":-1},{"c":24,"x":2.3,"y":5},{"c":24,"x":3.3,"y":-1.5},{"c":24,"x":4.25,"y":4},
{"c":25,"x":0,"y":-5.3},{"c":25,"x":1.3,"y":1},{"c":25,"x":2.3,"y":-5},{"c":25,"x":3.3,"y":1.5},{"c":25,"x":4.25,"y":-4},
{"c":26,"x":0,"y":2.8},{"c":26,"x":0.7,"y":-0.5},{"c":26,"x":1.4,"y":2.2},{"c":26,"x":2.1,"y":-1.2},{"c":26,"x":2.8,"y":2.8},{"c":26,"x":3.5,"y":-1},{"c":26,"x":4.25,"y":2.4},
{"c":27,"x":0,"y":4},{"c":27,"x":0.6,"y":1},{"c":27,"x":1.3,"y":5.3},{"c":27,"x":2.1,"y":0.5},{"c":27,"x":2.9,"y":5.5},{"c":27,"x":3.7,"y":0},{"c":27,"x":4.25,"y":4.5},
{"c":28,"x":0,"y":-4},{"c":28,"x":0.6,"y":-1},{"c":28,"x":1.3,"y":-5.3},{"c":28,"x":2.1,"y":-0.5},{"c":28,"x":2.9,"y":-5.5},{"c":28,"x":3.7,"y":0},{"c":28,"x":4.25,"y":-4.5},
{"c":29,"x":0,"y":0.8},{"c":29,"x":0.8,"y":5.7},{"c":29,"x":1.6,"y":1.5},{"c":29,"x":2.4,"y":6},{"c":29,"x":3.2,"y":0.8},{"c":29,"x":4.0,"y":5.5},{"c":29,"x":4.25,"y":5},
{"c":30,"x":0,"y":-0.8},{"c":30,"x":0.8,"y":-5.7},{"c":30,"x":1.6,"y":-1.5},{"c":30,"x":2.4,"y":-6},{"c":30,"x":3.2,"y":-0.8},{"c":30,"x":4.0,"y":-5.5},{"c":30,"x":4.25,"y":-5},
{"c":31,"x":0,"y":3.3},{"c":31,"x":0.5,"y":2.5},{"c":31,"x":1.2,"y":-3.5},{"c":31,"x":2.0,"y":3.2},{"c":31,"x":2.8,"y":-4},{"c":31,"x":3.6,"y":4},{"c":31,"x":4.25,"y":-2},
{"c":32,"x":0,"y":-3.3},{"c":32,"x":0.5,"y":-2.5},{"c":32,"x":1.2,"y":3.5},{"c":32,"x":2.0,"y":-3.2},{"c":32,"x":2.8,"y":4},{"c":32,"x":3.6,"y":-4},{"c":32,"x":4.25,"y":2}
],
"eR":[
{"x":0,"y":0},{"x":0.25,"y":0.7},{"x":0.5,"y":1.4},{"x":0.75,"y":2.1},{"x":1.0,"y":3.05},{"x":1.2,"y":3.8},{"x":1.4,"y":4.6},{"x":1.55,"y":5.3},{"x":1.72,"y":5.77},{"x":1.85,"y":5.7},{"x":1.98,"y":5.3},{"x":2.15,"y":4.2},{"x":2.35,"y":2.6},{"x":2.5,"y":1.3},{"x":2.65,"y":0.2},{"x":2.85,"y":-1.2},{"x":3.0,"y":-2.4},{"x":3.15,"y":-3.1},{"x":3.3,"y":-3.15},{"x":3.42,"y":-3.08},{"x":3.55,"y":-3.25},{"x":3.68,"y":-3.1},{"x":3.76,"y":-2.95},{"x":3.85,"y":-3.35},{"x":3.95,"y":-3.45},{"x":4.1,"y":-3.2},{"x":4.25,"y":-2.6}
],
"fG":[
{"c":1,"x":0,"y":-19.5},{"c":1,"x":0.35,"y":-20.3},{"c":1,"x":1.05,"y":-3},{"c":1,"x":1.75,"y":-19.5},{"c":1,"x":2.45,"y":-2},{"c":1,"x":3.15,"y":-20},{"c":1,"x":3.85,"y":-1},{"c":1,"x":4.25,"y":-12},
{"c":2,"x":0,"y":-18},{"c":2,"x":0.7,"y":-1},{"c":2,"x":1.4,"y":-20.4},{"c":2,"x":2.1,"y":-1.5},{"c":2,"x":2.8,"y":-19.8},{"c":2,"x":3.5,"y":-0.5},{"c":2,"x":4.2,"y":-20.5},{"c":2,"x":4.25,"y":-20.4},
{"c":3,"x":0,"y":-1},{"c":3,"x":0.6,"y":-16},{"c":3,"x":1.3,"y":-0.5},{"c":3,"x":2.0,"y":-17},{"c":3,"x":2.7,"y":-1},{"c":3,"x":3.4,"y":-18},{"c":3,"x":4.1,"y":-0.5},{"c":3,"x":4.25,"y":-1.5},
{"c":4,"x":0,"y":-12.5},{"c":4,"x":0.5,"y":-15},{"c":4,"x":1.2,"y":-2},{"c":4,"x":1.9,"y":-15.5},{"c":4,"x":2.6,"y":-3},{"c":4,"x":3.3,"y":-16},{"c":4,"x":4.0,"y":-2},{"c":4,"x":4.25,"y":-5},
{"c":5,"x":0,"y":-3},{"c":5,"x":0.8,"y":-13},{"c":5,"x":1.6,"y":-1},{"c":5,"x":2.4,"y":-14},{"c":5,"x":3.2,"y":-2},{"c":5,"x":4.0,"y":-15},{"c":5,"x":4.25,"y":-13},
{"c":6,"x":0,"y":-7},{"c":6,"x":0.4,"y":-11},{"c":6,"x":1.1,"y":-1.5},{"c":6,"x":1.8,"y":-12},{"c":6,"x":2.5,"y":-0.5},{"c":6,"x":3.2,"y":-13},{"c":6,"x":3.9,"y":-1.5},{"c":6,"x":4.25,"y":-6},
{"c":7,"x":0,"y":-0.2},{"c":7,"x":1,"y":-0.3},{"c":7,"x":2,"y":-0.1},{"c":7,"x":3,"y":-0.4},{"c":7,"x":4.25,"y":-0.1},
{"c":8,"x":0,"y":-1.5},{"c":8,"x":0.5,"y":-0.3},{"c":8,"x":1.2,"y":-8},{"c":8,"x":1.9,"y":-0.5},{"c":8,"x":2.6,"y":-9},{"c":8,"x":3.3,"y":-0.5},{"c":8,"x":4.0,"y":-10},{"c":8,"x":4.25,"y":-8},
{"c":9,"x":0,"y":-5},{"c":9,"x":0.6,"y":-0.5},{"c":9,"x":1.3,"y":-6},{"c":9,"x":2.0,"y":-1},{"c":9,"x":2.7,"y":-6.5},{"c":9,"x":3.4,"y":-1.5},{"c":9,"x":4.1,"y":-7},{"c":9,"x":4.25,"y":-6.5},
{"c":10,"x":0,"y":-15},{"c":10,"x":0.3,"y":-16},{"c":10,"x":1.0,"y":-6},{"c":10,"x":1.7,"y":-17.5},{"c":10,"x":2.4,"y":-5},{"c":10,"x":3.1,"y":-18},{"c":10,"x":3.8,"y":-4},{"c":10,"x":4.25,"y":-16},
{"c":11,"x":0,"y":-10},{"c":11,"x":0.8,"y":-3.5},{"c":11,"x":1.5,"y":-13.5},{"c":11,"x":2.2,"y":-4},{"c":11,"x":2.9,"y":-15},{"c":11,"x":3.6,"y":-3},{"c":11,"x":4.25,"y":-14},
{"c":12,"x":0,"y":-16},{"c":12,"x":1.0,"y":-16.2},{"c":12,"x":2.0,"y":-15.5},{"c":12,"x":3.0,"y":-16.4},{"c":12,"x":4.25,"y":-15.8},
{"c":13,"x":0,"y":-18.2},{"c":13,"x":1.5,"y":-17.8},{"c":13,"x":3,"y":-18.3},{"c":13,"x":4.25,"y":-17.5},
{"c":14,"x":0,"y":-2.5},{"c":14,"x":0.9,"y":-18},{"c":14,"x":1.7,"y":-3},{"c":14,"x":2.5,"y":-18.5},{"c":14,"x":3.3,"y":-2.5},{"c":14,"x":4.1,"y":-19},{"c":14,"x":4.25,"y":-18},
{"c":15,"x":0,"y":-8.5},{"c":15,"x":0.7,"y":-20},{"c":15,"x":1.5,"y":-7},{"c":15,"x":2.3,"y":-20.2},{"c":15,"x":3.0,"y":-6},{"c":15,"x":3.8,"y":-20.5},{"c":15,"x":4.25,"y":-10},
{"c":16,"x":0,"y":-4},{"c":16,"x":0.5,"y":-7.5},{"c":16,"x":1.2,"y":-1},{"c":16,"x":1.9,"y":-8.5},{"c":16,"x":2.6,"y":-2},{"c":16,"x":3.3,"y":-11},{"c":16,"x":4.0,"y":-3},{"c":16,"x":4.25,"y":-4.5},
{"c":17,"x":0,"y":-13},{"c":17,"x":0.9,"y":-0.5},{"c":17,"x":1.6,"y":-11},{"c":17,"x":2.3,"y":-1},{"c":17,"x":3.0,"y":-12},{"c":17,"x":3.7,"y":-0.5},{"c":17,"x":4.25,"y":-10},
{"c":18,"x":0,"y":-6},{"c":18,"x":0.2,"y":-5.5},{"c":18,"x":0.9,"y":-14.5},{"c":18,"x":1.6,"y":-4.5},{"c":18,"x":2.3,"y":-15.5},{"c":18,"x":3.0,"y":-5},{"c":18,"x":3.7,"y":-16.5},{"c":18,"x":4.25,"y":-5},
{"c":19,"x":0,"y":-0.8},{"c":19,"x":0.4,"y":-3},{"c":19,"x":1.0,"y":-0.2},{"c":19,"x":1.6,"y":-4.5},{"c":19,"x":2.2,"y":-0.5},{"c":19,"x":2.8,"y":-5},{"c":19,"x":3.4,"y":-0.3},{"c":19,"x":4.0,"y":-5.5},{"c":19,"x":4.25,"y":-3},
{"c":20,"x":0,"y":-11.5},{"c":20,"x":0.6,"y":-19},{"c":20,"x":1.4,"y":-9},{"c":20,"x":2.2,"y":-19.5},{"c":20,"x":3.0,"y":-8},{"c":20,"x":3.8,"y":-19.8},{"c":20,"x":4.25,"y":-12},
{"c":21,"x":0,"y":-9},{"c":21,"x":1.1,"y":-11.5},{"c":21,"x":1.9,"y":-3},{"c":21,"x":2.7,"y":-12.5},{"c":21,"x":3.5,"y":-4},{"c":21,"x":4.25,"y":-14},
{"c":22,"x":0,"y":-14},{"c":22,"x":0.6,"y":-9},{"c":22,"x":1.4,"y":-16},{"c":22,"x":2.1,"y":-8},{"c":22,"x":2.9,"y":-17},{"c":22,"x":3.7,"y":-7},{"c":22,"x":4.25,"y":-15},
{"c":23,"x":0,"y":-2},{"c":23,"x":0.3,"y":-1},{"c":23,"x":1.0,"y":-11},{"c":23,"x":1.7,"y":-2},{"c":23,"x":2.4,"y":-12},{"c":23,"x":3.1,"y":-1.5},{"c":23,"x":3.8,"y":-13},{"c":23,"x":4.25,"y":-3},
{"c":24,"x":0,"y":0},{"c":24,"x":4.25,"y":0},
{"c":25,"x":0,"y":-5.5},{"c":25,"x":0.7,"y":-11},{"c":25,"x":1.4,"y":-3},{"c":25,"x":2.1,"y":-10},{"c":25,"x":2.8,"y":-2.5},{"c":25,"x":3.5,"y":-9},{"c":25,"x":4.25,"y":-3.5},
{"c":26,"x":0,"y":-20},{"c":26,"x":0.5,"y":-14},{"c":26,"x":1.2,"y":-20.5},{"c":26,"x":1.9,"y":-13},{"c":26,"x":2.6,"y":-20},{"c":26,"x":3.3,"y":-12},{"c":26,"x":4.0,"y":-19.5},{"c":26,"x":4.25,"y":-18},
{"c":27,"x":0,"y":-0.5},{"c":27,"x":0.7,"y":-5.5},{"c":27,"x":1.4,"y":-0.3},{"c":27,"x":2.1,"y":-7},{"c":27,"x":2.8,"y":-0.5},{"c":27,"x":3.5,"y":-8},{"c":27,"x":4.25,"y":-0.5},
{"c":28,"x":0,"y":-16.5},{"c":28,"x":0.8,"y":-7.5},{"c":28,"x":1.6,"y":-18},{"c":28,"x":2.3,"y":-9},{"c":28,"x":3.1,"y":-19},{"c":28,"x":3.9,"y":-9.5},{"c":28,"x":4.25,"y":-14},
{"c":29,"x":0,"y":-3.5},{"c":29,"x":0.3,"y":-2.5},{"c":29,"x":1.0,"y":-17},{"c":29,"x":1.8,"y":-6},{"c":29,"x":2.6,"y":-17.5},{"c":29,"x":3.4,"y":-7},{"c":29,"x":4.2,"y":-18},{"c":29,"x":4.25,"y":-17.8},
{"c":30,"x":0,"y":-8},{"c":30,"x":0.6,"y":-3},{"c":30,"x":1.3,"y":-10},{"c":30,"x":2.0,"y":-5},{"c":30,"x":2.7,"y":-11},{"c":30,"x":3.4,"y":-6},{"c":30,"x":4.25,"y":-12},
{"c":31,"x":0,"y":-0.5},{"c":31,"x":2,"y":-1.2},{"c":31,"x":4.25,"y":-0.4}
],
"fR":[
{"x":0,"y":0},{"x":0.5,"y":0},{"x":0.7,"y":-0.05},{"x":0.85,"y":-0.2},{"x":1.0,"y":-0.45},{"x":1.15,"y":-1.0},{"x":1.3,"y":-1.9},{"x":1.45,"y":-3.1},{"x":1.57,"y":-4.3},{"x":1.77,"y":-6.9},{"x":1.97,"y":-9.9},{"x":2.17,"y":-12.3},{"x":2.37,"y":-13.6},{"x":2.57,"y":-14.3},{"x":2.72,"y":-14.5},{"x":2.87,"y":-14.1},{"x":3.0,"y":-12.9},{"x":3.1,"y":-11.8},{"x":3.2,"y":-10.7},{"x":3.3,"y":-9.6},{"x":3.37,"y":-8.9},{"x":3.5,"y":-8.2},{"x":3.65,"y":-7.4},{"x":3.77,"y":-6.8},{"x":3.84,"y":-6.6},{"x":3.97,"y":-5.6},{"x":4.1,"y":-4.7},{"x":4.25,"y":-3.9}
]
},
"vconcat":[
{"hconcat":[
{"width":283,"height":226,
"title":{"text":"(a)\u00a0\u00a0\u00a0\u00a0\u00a0\u00a0\u00a0\u00a0\u00a0\u00a0\u00a0\u00a0\u00a0\u00a0\u00a0\u00a0\u00a0\u00a0\u00a0\u00a0\u00a0\u00a0\u00a0\u00a0\u00a0\u00a0\u200b","subtitle":"\u200b\u00a0\u00a0\u00a0\u00a0\u00a0\u00a0\u00a0\u00a0\u00a0Dispersion - Hexahedra"},
"encoding":{
"x":{"field":"x","type":"quantitative","scale":{"domain":[0,8],"nice":false,"zero":false},"axis":{"values":[0,1,2,3,4,5,6,7],"labelExpr":"datum.value == 0 ? '0' : datum.value + 'π'","title":"κ̄"}},
"y":{"field":"y","type":"quantitative","scale":{"domain":[-19.7,20.2],"nice":false,"zero":false},"axis":{"values":[-15,-10,-5,0,5,10,15,20],"title":"ℜ (ω̄ᵟₖ)","labelFlush":2}}},
"layer":[
{"data":{"name":"aG"},"mark":{"type":"line","color":"#c9c9c9","strokeWidth":1,"interpolate":"monotone","clip":true},"encoding":{"detail":{"field":"c","type":"nominal"}}},
{"data":{"name":"aR"},"mark":{"type":"line","color":"#a3171a","strokeWidth":1.6,"interpolate":"monotone","clip":true}}
]},
{"width":283,"height":226,
"title":{"text":"(b)\u00a0\u00a0\u00a0\u00a0\u00a0\u00a0\u00a0\u00a0\u00a0\u00a0\u00a0\u00a0\u00a0\u00a0\u00a0\u00a0\u00a0\u00a0\u00a0\u00a0\u00a0\u00a0\u00a0\u00a0\u00a0\u00a0\u00a0\u200b","subtitle":"\u200b\u00a0\u00a0\u00a0\u00a0\u00a0\u00a0\u00a0\u00a0\u00a0Dissipation - Hexahedra"},
"encoding":{
"x":{"field":"x","type":"quantitative","scale":{"domain":[0,8],"nice":false,"zero":false},"axis":{"values":[0,1,2,3,4,5,6,7],"labelExpr":"datum.value == 0 ? '0' : datum.value + 'π'","title":"κ̄"}},
"y":{"field":"y","type":"quantitative","scale":{"domain":[-31,1.5],"nice":false,"zero":false},"axis":{"values":[-30,-25,-20,-15,-10,-5,0],"title":"ℑ (ω̄ᵟₖ)"}}},
"layer":[
{"data":{"name":"bG"},"mark":{"type":"line","color":"#c9c9c9","strokeWidth":1,"interpolate":"monotone","clip":true},"encoding":{"detail":{"field":"c","type":"nominal"}}},
{"data":{"name":"bR"},"mark":{"type":"line","color":"#a3171a","strokeWidth":1.6,"interpolate":"monotone","clip":true}}
]}
],"spacing":32},
{"hconcat":[
{"width":283,"height":226,
"title":{"text":"(c)\u00a0\u00a0\u00a0\u00a0\u00a0\u00a0\u00a0\u00a0\u00a0\u00a0\u00a0\u00a0\u00a0\u00a0\u00a0\u00a0\u00a0\u00a0\u00a0\u00a0\u00a0\u00a0\u200b","subtitle":"\u200b\u00a0\u00a0\u00a0\u00a0\u00a0\u00a0\u00a0\u00a0Dispersion - Prisms"},
"encoding":{
"x":{"field":"x","type":"quantitative","scale":{"domain":[0,6.37],"nice":false,"zero":false},"axis":{"values":[0,1,2,3,4,5,6],"labelExpr":"datum.value == 0 ? '0' : datum.value + 'π'","title":"κ̄"}},
"y":{"field":"y","type":"quantitative","scale":{"domain":[-12.6,12.9],"nice":false,"zero":false},"axis":{"values":[-10,-5,0,5,10],"title":"ℜ (ω̄ᵟₖ)"}}},
"layer":[
{"data":{"name":"cG"},"mark":{"type":"line","color":"#c9c9c9","strokeWidth":1,"interpolate":"monotone","clip":true},"encoding":{"detail":{"field":"c","type":"nominal"}}},
{"data":{"name":"cR"},"mark":{"type":"line","color":"#a3171a","strokeWidth":1.6,"interpolate":"monotone","clip":true}}
]},
{"width":283,"height":226,
"title":{"text":"(d)\u00a0\u00a0\u00a0\u00a0\u00a0\u00a0\u00a0\u00a0\u00a0\u00a0\u00a0\u00a0\u00a0\u00a0\u00a0\u00a0\u00a0\u00a0\u00a0\u00a0\u00a0\u00a0\u200b","subtitle":"\u200b\u00a0\u00a0\u00a0\u00a0\u00a0\u00a0\u00a0\u00a0\u00a0Dissipation - Prisms"},
"encoding":{
"x":{"field":"x","type":"quantitative","scale":{"domain":[0,6.37],"nice":false,"zero":false},"axis":{"values":[0,1,2,3,4,5,6],"labelExpr":"datum.value == 0 ? '0' : datum.value + 'π'","title":"κ̄"}},
"y":{"field":"y","type":"quantitative","scale":{"domain":[-27.7,1.5],"nice":false,"zero":false},"axis":{"values":[-25,-20,-15,-10,-5,0],"title":"ℑ (ω̄ᵟₖ)"}}},
"layer":[
{"data":{"name":"dG"},"mark":{"type":"line","color":"#c9c9c9","strokeWidth":1,"interpolate":"monotone","clip":true},"encoding":{"detail":{"field":"c","type":"nominal"}}},
{"data":{"name":"dR"},"mark":{"type":"line","color":"#a3171a","strokeWidth":1.6,"interpolate":"monotone","clip":true}}
]}
],"spacing":32},
{"hconcat":[
{"width":283,"height":226,
"title":{"text":"(e)\u00a0\u00a0\u00a0\u00a0\u00a0\u00a0\u00a0\u00a0\u00a0\u00a0\u00a0\u00a0\u00a0\u00a0\u00a0\u00a0\u00a0\u00a0\u00a0\u00a0\u00a0\u00a0\u00a0\u00a0\u00a0\u00a0\u200b","subtitle":"\u200b\u00a0\u00a0\u00a0\u00a0\u00a0\u00a0\u00a0\u00a0Dispersion - Tetrahedra"},
"encoding":{
"x":{"field":"x","type":"quantitative","scale":{"domain":[0,4.25],"nice":false,"zero":false},"axis":{"values":[0,1,2,3,4],"labelExpr":"datum.value == 0 ? '0' : datum.value + 'π'","title":"κ̄"}},
"y":{"field":"y","type":"quantitative","scale":{"domain":[-6.75,6.75],"nice":false,"zero":false},"axis":{"values":[-6,-4,-2,0,2,4,6],"title":"ℜ (ω̄ᵟₖ)"}}},
"layer":[
{"data":{"name":"eG"},"mark":{"type":"line","color":"#c9c9c9","strokeWidth":1,"interpolate":"monotone","clip":true},"encoding":{"detail":{"field":"c","type":"nominal"}}},
{"data":{"name":"eR"},"mark":{"type":"line","color":"#a3171a","strokeWidth":1.6,"interpolate":"monotone","clip":true}}
]},
{"width":283,"height":226,
"title":{"text":"(f)\u00a0\u00a0\u00a0\u00a0\u00a0\u00a0\u00a0\u00a0\u00a0\u00a0\u00a0\u00a0\u00a0\u00a0\u00a0\u00a0\u00a0\u00a0\u00a0\u00a0\u00a0\u00a0\u00a0\u00a0\u00a0\u00a0\u00a0\u200b","subtitle":"\u200b\u00a0\u00a0\u00a0\u00a0\u00a0\u00a0\u00a0\u00a0Dissipation - Tetrahedra"},
"encoding":{
"x":{"field":"x","type":"quantitative","scale":{"domain":[0,4.25],"nice":false,"zero":false},"axis":{"values":[0,1,2,3,4],"labelExpr":"datum.value == 0 ? '0' : datum.value + 'π'","title":"κ̄"}},
"y":{"field":"y","type":"quantitative","scale":{"domain":[-21.5,1.07],"nice":false,"zero":false},"axis":{"values":[-20,-15,-10,-5,0],"title":"ℑ (ω̄ᵟₖ)"}}},
"layer":[
{"data":{"name":"fG"},"mark":{"type":"line","color":"#c9c9c9","strokeWidth":1,"interpolate":"monotone","clip":true},"encoding":{"detail":{"field":"c","type":"nominal"}}},
{"data":{"name":"fR"},"mark":{"type":"line","color":"#a3171a","strokeWidth":1.6,"interpolate":"monotone","clip":true}}
]}
],"spacing":32}
],
"spacing":19
}
